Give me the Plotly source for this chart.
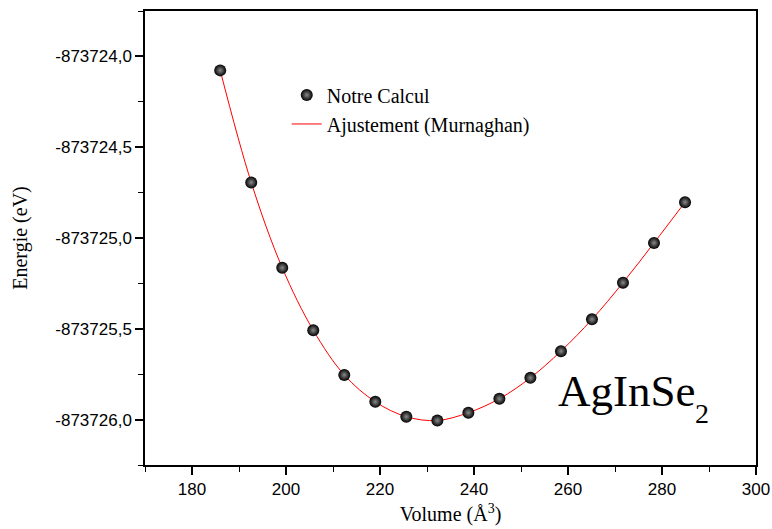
import plotly.graph_objects as go

volume = [186.0, 192.6, 199.2, 205.8, 212.4, 219.0, 225.6, 232.2, 238.8, 245.4,
          252.0, 258.5, 265.1, 271.7, 278.3, 284.9]
energie = [-873724.077, -873724.694, -873725.164, -873725.508, -873725.754,
           -873725.902, -873725.984, -873726.005, -873725.962, -873725.885,
           -873725.770, -873725.623, -873725.448, -873725.246, -873725.027,
           -873724.803]
y_tickvals = [-873726.0, -873725.5, -873725.0, -873724.5, -873724.0]
y_ticktext = ["-873726,0", "-873725,5", "-873725,0", "-873724,5", "-873724,0"]

serif = "Liberation Serif"
sans = "Liberation Sans"

fig = go.Figure()
fig.add_trace(go.Scatter(
    x=volume, y=energie, mode="lines", name="Ajustement (Murnaghan)", legendrank=2,
    line=dict(color="red", width=1, shape="spline", smoothing=1.0),
))
fig.add_trace(go.Scatter(
    x=volume, y=energie, mode="markers", name="Notre Calcul", legendrank=1,
    marker=dict(size=12, color="black", symbol="circle",
                gradient=dict(type="radial", color="#8a8a8a"),
                line=dict(width=0)),
))

fig.add_annotation(
    text="AgInSe", xref="paper", yref="paper",
    x=0.673, y=(465 - 391) / 455, xanchor="left", yanchor="middle", showarrow=False,
    font=dict(family=serif, size=45, color="black"),
)
fig.add_annotation(
    text="2", xref="paper", yref="paper",
    x=(693 - 145) / 611, y=(465 - 413) / 455, xanchor="left", yanchor="middle", showarrow=False,
    font=dict(family=serif, size=28, color="black"),
)

axis_common = dict(
    showgrid=False, zeroline=False, showline=True, linecolor="black", linewidth=1.5,
    mirror=True, ticks="outside", ticklen=8, tickwidth=1.5, tickcolor="black",
    tickfont=dict(family=sans, size=17, color="black"),
)

fig.update_xaxes(
    range=[170, 300], tick0=180, dtick=20,
    minor=dict(ticks="outside", ticklen=5, tickwidth=1, tickcolor="black", dtick=10, tick0=170),
    title=dict(text="Volume (Å<sup>3</sup>)", font=dict(family=serif, size=20, color="black"), standoff=9),
    **axis_common,
)
fig.update_yaxes(
    range=[-873726.25, -873723.75], tickmode="array", tickvals=y_tickvals, ticktext=y_ticktext,
    minor=dict(ticks="outside", ticklen=5, tickwidth=1, tickcolor="black", dtick=0.25,
               tick0=-873726.0),
    title=dict(text="Energie (eV)", font=dict(family=serif, size=20, color="black"), standoff=22),
    **axis_common,
)

fig.update_layout(
    width=772, height=529,
    margin=dict(l=145, r=16, t=11, b=64, autoexpand=False),
    paper_bgcolor="white", plot_bgcolor="white",
    showlegend=True,
    legend=dict(x=0.232, y=0.858, xanchor="left", yanchor="top",
                bgcolor="rgba(0,0,0,0)", borderwidth=0,
                font=dict(family=serif, size=20, color="black"),
                tracegroupgap=0),
)

fig.write_html("out.html")
